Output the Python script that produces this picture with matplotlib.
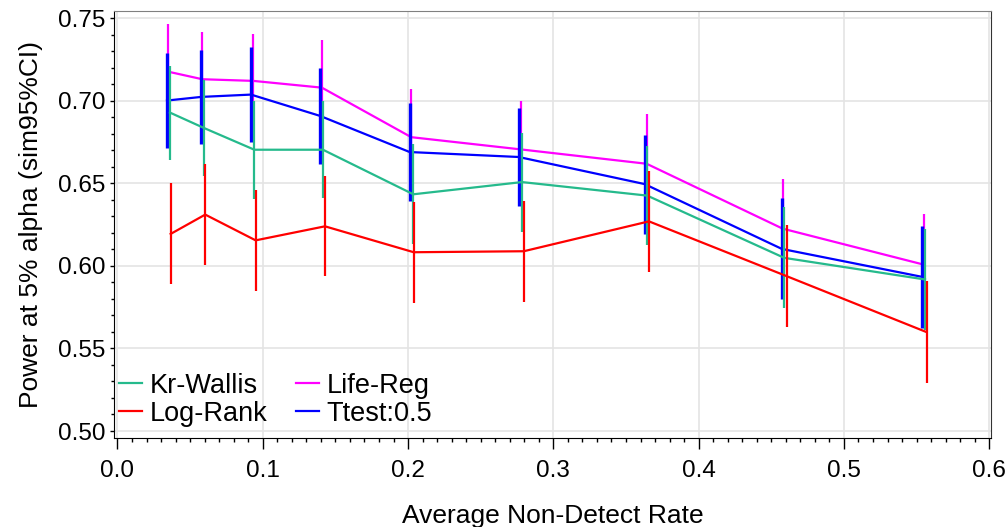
import matplotlib
matplotlib.use("Agg")
import matplotlib.pyplot as plt
from matplotlib.ticker import MultipleLocator

plt.rcParams['font.family'] = ['Liberation Sans', 'DejaVu Sans']

# x positions (average non-detect rate) per method
x_kr = [0.0361, 0.0597, 0.0942, 0.1414, 0.2036, 0.2784, 0.3646, 0.4589, 0.5558]
x_lr = [0.0366, 0.0604, 0.0951, 0.1428, 0.2039, 0.2796, 0.3658, 0.4606, 0.5569]
x_life = [0.0348, 0.0584, 0.0935, 0.1407, 0.2022, 0.2775, 0.3642, 0.4578, 0.5549]
x_tt = [0.0341, 0.0577, 0.0919, 0.1394, 0.2011, 0.2761, 0.3628, 0.4573, 0.5537]

# power estimates
kr = [0.6929, 0.6835, 0.6704, 0.6704, 0.6434, 0.6508, 0.6426, 0.6049, 0.5918]
lr = [0.6194, 0.6311, 0.6155, 0.6240, 0.6083, 0.6089, 0.6270, 0.5938, 0.5599]
life = [0.7177, 0.7131, 0.7121, 0.7080, 0.6780, 0.6706, 0.6619, 0.6226, 0.6008]
tt = [0.7002, 0.7024, 0.7038, 0.6909, 0.6690, 0.6660, 0.6496, 0.6103, 0.5934]

# half widths of sim 95% CI
kr_err = [0.0285, 0.0292, 0.0296, 0.0295, 0.0302, 0.0300, 0.0300, 0.0305, 0.0305]
lr_err = [0.0306, 0.0306, 0.0307, 0.0304, 0.0305, 0.0306, 0.0305, 0.0310, 0.0310]
life_err = [0.0287, 0.0286, 0.0286, 0.0287, 0.0294, 0.0296, 0.0301, 0.0302, 0.0307]
tt_err = [0.0287, 0.0285, 0.0290, 0.0293, 0.0295, 0.0296, 0.0300, 0.0306, 0.0310]

names = ['Kr-Wallis', 'Log-Rank', 'Life-Reg', 'Ttest:0.5']
colors = ['#25BA8C', '#FF0000', '#FF00FF', '#0000FF']

fig = plt.figure(figsize=(10.08, 5.27), dpi=100)
ax = fig.add_axes([0.1131, 0.169, 0.8700, 0.810])

series = [(x_kr, kr, kr_err), (x_lr, lr, lr_err), (x_life, life, life_err), (x_tt, tt, tt_err)]
zorders = [4, 5, 2, 3]
ebw = [1.6, 1.6, 1.6, 2.4]
handles = []
for (xs, ys, es), name, c, z, w in zip(series, names, colors, zorders, ebw):
    ax.errorbar(xs, ys, yerr=es, fmt='none', ecolor=c, elinewidth=w, capsize=0, zorder=z)
    h, = ax.plot(xs, ys, color=c, lw=1.6, zorder=z, label=name)
    handles.append(h)

ax.set_xlim(-0.0024, 0.6012)
ax.set_ylim(0.4958, 0.7544)
ax.xaxis.set_major_locator(MultipleLocator(0.1))
ax.xaxis.set_minor_locator(MultipleLocator(0.01))
ax.yaxis.set_major_locator(MultipleLocator(0.05))
ax.yaxis.set_minor_locator(MultipleLocator(0.01))
ax.xaxis.set_major_formatter(plt.FormatStrFormatter('%.1f'))
ax.yaxis.set_major_formatter(plt.FormatStrFormatter('%.2f'))

ax.grid(True, which='major', color='#e4e4e4', lw=1.2, zorder=0)
ax.set_axisbelow(True)
ax.tick_params(axis='x', which='major', length=8, width=1, pad=8, labelsize=17.5)
ax.tick_params(axis='x', which='minor', length=3, width=1)
ax.tick_params(axis='y', which='major', length=3, width=1, pad=3, labelsize=17.5)
ax.tick_params(axis='y', which='minor', length=2, width=1)
ax.spines['top'].set_color('#808080')
ax.spines['right'].set_color('#333333')

ax.set_xlabel('Average Non-Detect Rate', fontsize=19, labelpad=16)
ax.set_ylabel('Power at 5% alpha (sim95%CI)', fontsize=19, labelpad=11)

ax.legend(handles=handles, ncol=2, loc='lower left', bbox_to_anchor=(0.0, 0.013),
          frameon=False, fontsize=19.5, handlelength=0.85, handletextpad=0.26,
          columnspacing=1.07, labelspacing=0.08, borderpad=0.2, borderaxespad=0)

fig.savefig('out.png', dpi=100)
